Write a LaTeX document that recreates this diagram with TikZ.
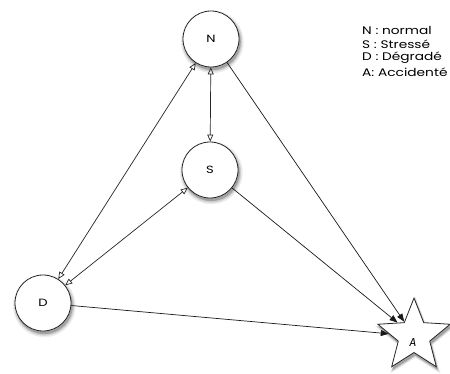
\documentclass[tikz,border=0pt]{standalone}
\usepackage{fontspec}
\setmainfont{Fira Sans}
\newfontfamily\legendfont[FakeStretch=1.25]{Poppins}
\usetikzlibrary{shapes.geometric,shadows,arrows.meta}
\tikzset{
  softshadow/.style={
    general shadow={shadow scale=1.12,shadow xshift=1.2pt,shadow yshift=-2.5pt,fill=black,opacity=0.07},
    general shadow={shadow scale=1.07,shadow xshift=1.2pt,shadow yshift=-2.5pt,fill=black,opacity=0.12},
    general shadow={shadow scale=1.02,shadow xshift=1.2pt,shadow yshift=-2.5pt,fill=black,opacity=0.22}}
}
\begin{document}
\begin{tikzpicture}[x=1pt,y=-1pt,
  state/.style={circle,draw=black!85,line width=0.8pt,fill=white,minimum size=56pt,inner sep=0pt,font=\legendfont\fontsize{10.5}{12}\selectfont,softshadow},
  accident/.style={star,star points=5,star point ratio=2.3,draw=black!85,line width=0.8pt,fill=white,minimum size=76pt,inner sep=0pt,softshadow},
  dbl/.style={draw=black!85,line width=0.7pt,{Triangle[open,length=7pt,width=6pt]}-{Triangle[open,length=7pt,width=6pt]}},
  fwd/.style={draw=black!90,line width=0.7pt,-{Triangle[length=8pt,width=6pt]}},
  legend/.style={anchor=west,inner sep=0pt,font=\legendfont\fontsize{11}{12}\selectfont}]
\useasboundingbox (0,0) rectangle (450,374);
\node[state] (N) at (211,39) {N};
\node[state] (S) at (210,170) {S};
\node[state] (D) at (43,303) {D};
\node[accident] (A) at (414,336) {};
\node (Alabel) at (413,343) {\fontsize{11.5}{12}\itshape\selectfont A};
\draw[dbl] (N) -- (S);
\draw[dbl] (N) -- (D);
\draw[dbl] (S) -- (D);
\draw[fwd] (N) -- (A);
\draw[fwd] (S) -- (A);
\draw[fwd] (D) -- (A);
\node[legend] (l1) at (362,30) {N : normal};
\node[legend] (l2) at (362,44) {S : Stressé};
\node[legend] (l3) at (362,58) {D : Dégradé};
\node[legend] (l4) at (362,72) {A: Accidenté};
\end{tikzpicture}
\end{document}
